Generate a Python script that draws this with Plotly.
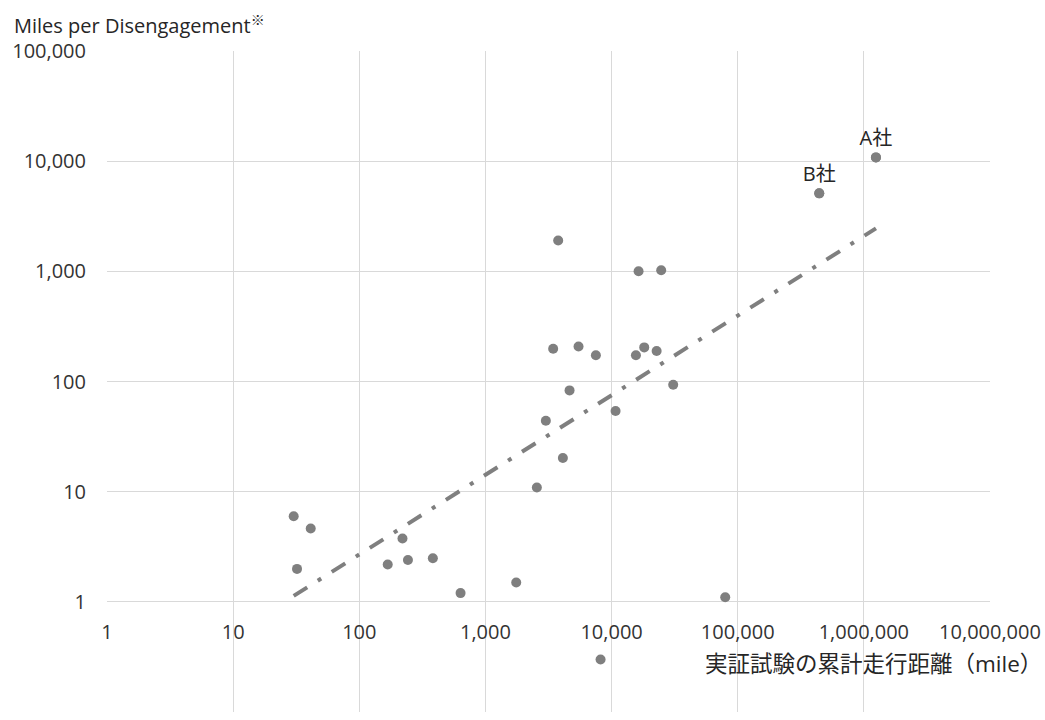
import numpy as np
import plotly.graph_objects as go

# Cumulative test distance (miles) and miles per disengagement for each company
miles_driven = [
    30.2, 41.2, 32.1, 220, 168, 243, 383, 635, 1754, 79600,
    2557, 4110, 3013, 4645, 10760, 30800, 3774, 16370, 24740, 3443,
    5470, 7510, 15600, 18150, 22760, 8180, 443000, 1247000,
]
miles_per_disengagement = [
    5.98, 4.63, 1.99, 3.76, 2.18, 2.40, 2.49, 1.20, 1.50, 1.10,
    10.9, 20.2, 44.1, 83, 53.9, 93.5, 1903, 1002, 1023, 198,
    208, 173, 173, 204, 189, 0.30, 5105, 10820,
]
# Named companies (index into the arrays above)
labelled_index = [26, 27]
labelled_names = ["B社", "A社"]

x_ticks = [1, 10, 100, 1000, 10000, 100000, 1000000, 10000000]
x_tick_text = ["1", "10", "100", "1,000", "10,000", "100,000", "1,000,000", "10,000,000"]
y_ticks = [0.1, 1, 10, 100, 1000, 10000, 100000]
y_tick_text = ["0.1", "1", "10", "100", "1,000", "10,000", "100,000"]

x_title = "実証試験の累計走行距離（mile）"
y_title = "Miles per Disengagement<sup>※</sup>"

# Power-law trend fitted in log-log space over the data range
lx = np.log10(miles_driven)
ly = np.log10(miles_per_disengagement)
slope, intercept = np.polyfit(lx, ly, 1)
trend_x = np.array([min(miles_driven), max(miles_driven)])
trend_y = 10 ** (intercept + slope * np.log10(trend_x))

W, H = 1045, 720
ML, MR, MT, MB = 107, 55, 51, 8
plot_w, plot_h = W - ML - MR, H - MT - MB


def px_x(px):
    return (px - ML) / plot_w


def px_y(py):
    return (H - MB - py) / plot_h


Y_RANGE = [-1, 5]
X_RANGE = [0, 7]
grey = "#7f7f7f"
grid = "#d9d9d9"
FONT = "Open Sans, Noto Sans CJK JP, sans-serif"

fig = go.Figure()
fig.add_trace(go.Scatter(
    x=trend_x, y=trend_y, mode="lines",
    line=dict(color=grey, width=4, dash="16px,12.5px,4px,12.5px"),
    hoverinfo="skip", showlegend=False,
))
fig.add_trace(go.Scatter(
    x=miles_driven, y=miles_per_disengagement, mode="markers",
    marker=dict(color=grey, size=10),
    showlegend=False,
))
fig.add_trace(go.Scatter(
    x=[miles_driven[i] for i in labelled_index],
    y=[miles_per_disengagement[i] for i in labelled_index],
    mode="markers+text",
    marker=dict(color=grey, size=10),
    text=labelled_names, textposition="top center",
    textfont=dict(family=FONT, size=20, color="#262626"),
    showlegend=False,
))

fig.update_layout(
    width=W, height=H,
    margin=dict(l=ML, r=MR, t=MT, b=MB, autoexpand=False),
    paper_bgcolor="white", plot_bgcolor="white",
    font=dict(family=FONT, size=20, color="#333333"),
    xaxis=dict(
        type="log", range=X_RANGE, automargin=False,
        tickvals=x_ticks, ticktext=x_tick_text,
        showgrid=True, gridcolor=grid, gridwidth=1,
        showline=False, zeroline=False, ticks="",
        anchor="free",
        position=(0 - Y_RANGE[0]) / (Y_RANGE[1] - Y_RANGE[0]),
        ticklabelstandoff=16,
    ),
    yaxis=dict(
        type="log", range=Y_RANGE, automargin=False,
        tickvals=y_ticks, ticktext=y_tick_text,
        showgrid=True, gridcolor=grid, gridwidth=1,
        showline=False, zeroline=False, ticks="",
        ticklabelstandoff=20,
    ),
    annotations=[
        dict(
            text=x_title, xref="paper", yref="paper",
            x=px_x(1044), y=px_y(663), xanchor="right", yanchor="middle",
            showarrow=False, font=dict(family=FONT, size=22.5, color="#262626"),
        ),
        dict(
            text=y_title, xref="paper", yref="paper",
            x=px_x(12), y=px_y(24), xanchor="left", yanchor="middle",
            showarrow=False, font=dict(family=FONT, size=20, color="#262626"),
        ),
    ],
)

fig.write_html("out.html")
